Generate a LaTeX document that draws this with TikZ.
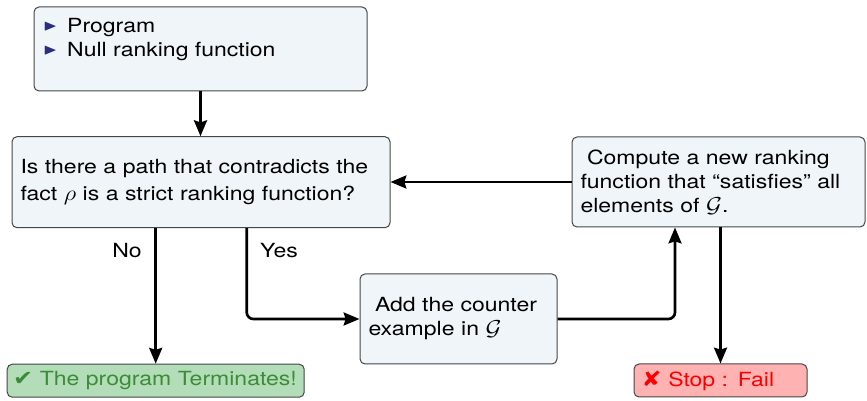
\documentclass[tikz,border=0pt]{standalone}
\usepackage{amssymb}
\usepackage{graphicx}
\usepackage{fontspec}
\setmainfont{TeX Gyre Heros}[FakeStretch=1.18]
\newfontfamily\dejavusym{DejaVu Sans}[FakeStretch=1.15]
\usetikzlibrary{arrows.meta}
\definecolor{boxfill}{RGB}{239,245,249}
\definecolor{boxdraw}{RGB}{70,70,70}
\definecolor{okfill}{RGB}{178,221,184}
\definecolor{oktext}{RGB}{60,140,55}
\definecolor{failfill}{RGB}{255,178,178}
\definecolor{failtext}{RGB}{250,0,0}
\definecolor{bulletcol}{RGB}{45,45,125}
\newcommand{\bulletmark}{{\color{bulletcol}\fontsize{9.3pt}{10pt}\selectfont\raisebox{1.1pt}{\scalebox{1.15}[1]{$\blacktriangleright$}}}}
\newcommand{\stretchmath}[1]{\scalebox{1.22}[1.08]{$#1$}}
\begin{document}
\begin{tikzpicture}[x=0.6pt,y=-0.6pt,
  every node/.style={font=\fontsize{11.7pt}{14.4pt}\selectfont},
  flowbox/.style={draw=boxdraw, fill=boxfill, line width=0.6pt, rounded corners=3pt,
    inner xsep=5.1pt, inner ysep=0pt, align=left},
  endbox/.style={draw=boxdraw, line width=0.6pt, rounded corners=3pt,
    inner ysep=0pt, align=left, minimum height=19.8pt},
  conn/.style={line width=1.6pt, -{Stealth[length=9.5pt,width=7.8pt,inset=1.2pt]}},
  lbl/.style={inner sep=0pt}
]
\useasboundingbox (0,0) rectangle (867,401);

\node[flowbox, minimum width=199.8pt, minimum height=50.4pt, inner xsep=0pt] (input) at (200.5,49)
  {\parbox[c][36.8pt][t]{188.6pt}{\bulletmark\hspace{6pt}Program\\
   \bulletmark\hspace{6pt}Null ranking function}};

\node[flowbox, text width=216.6pt, minimum height=54.6pt,
  font=\fontsize{11.7pt}{16.4pt}\selectfont] (question) at (201,182.2)
  {Is there a path that contradicts the\\ fact \stretchmath{\rho} is a strict ranking function?};

\node[flowbox, text width=165.6pt, minimum height=54pt] (compute) at (718.5,182)
  {\ Compute a new ranking\\ function that ``satisfies'' all\\ elements of \stretchmath{\mathcal{G}}.};

\node[flowbox, text width=108pt, minimum height=54pt] (counter) at (458.5,319)
  {\ Add the counter\\ example in \stretchmath{\mathcal{G}}};

\node[endbox, fill=okfill, text=oktext, inner xsep=3.6pt, text width=171pt] (ok) at (155.7,380.7)
  {{\dejavusym\fontsize{12.5pt}{14pt}\selectfont ✔} The program Terminates!};

\node[endbox, fill=failfill, text=failtext, inner xsep=4.6pt, text width=94.6pt] (stop) at (720.5,380.5)
  {{\dejavusym\fontsize{12.5pt}{14pt}\selectfont ✘} Stop : Fail};

\node[lbl] (nolabel) at (127,251) {No};
\node[lbl] (yeslabel) at (279,251) {Yes};

\path (question.south) ++(45.7,0) coordinate (yesstart);
\path (compute.south) ++(-43.5,0) coordinate (upend);

\draw[conn] (input.south) -- (input.south |- question.north);
\draw[conn] (compute.west) -- (compute.west -| question.east);
\draw[conn] (ok.north |- question.south) -- (ok.north);
\draw[conn, rounded corners=4pt] (yesstart) |- (counter.west);
\draw[conn, rounded corners=4pt] (counter.east) -| (upend);
\draw[conn] (stop.north |- compute.south) -- (stop.north);
\end{tikzpicture}
\end{document}
